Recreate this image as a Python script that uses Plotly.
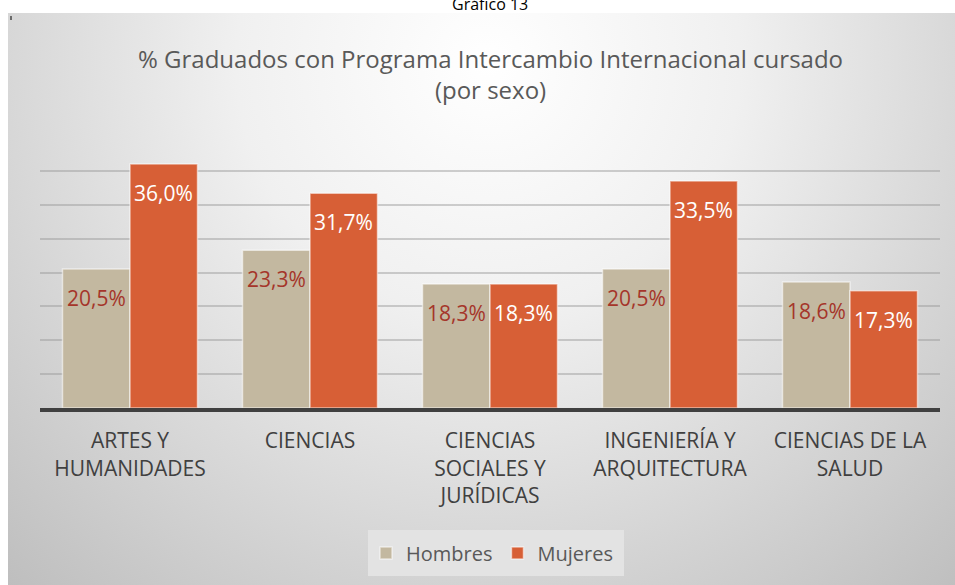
import base64
import plotly.graph_objects as go

# ---- data ----
categories = ["ARTES Y<br>HUMANIDADES", "CIENCIAS", "CIENCIAS<br>SOCIALES Y<br>JURÍDICAS",
              "INGENIERÍA Y<br>ARQUITECTURA", "CIENCIAS DE LA<br>SALUD"]
hombres = [20.5, 23.3, 18.3, 20.5, 18.6]
mujeres = [36.0, 31.7, 18.3, 33.5, 17.3]
series_names = ["Hombres", "Mujeres"]
title_text = "% Graduados con Programa Intercambio Internacional cursado<br>(por sexo)"
caption_text = "Gráfico 13"

W, H = 955, 585
FONT = "Open Sans"
c_h = "#c3b8a0"
c_m = "#d75f36"

fig = go.Figure()
fig.add_trace(go.Bar(x=categories, y=hombres, name=series_names[0],
                     marker=dict(color=c_h, line=dict(color="rgba(255,255,255,0.55)", width=1.5))))
fig.add_trace(go.Bar(x=categories, y=mujeres, name=series_names[1],
                     marker=dict(color=c_m, line=dict(color="rgba(255,255,255,0.55)", width=1.5))))

bar_off = 33.75
ann = []
for cat, v in zip(categories, hombres):
    ann.append(dict(x=cat, y=v, xref="x", yref="y", text=f"{v:.1f}%".replace(".", ","),
                    showarrow=False, xshift=-bar_off, yshift=-29, yanchor="middle",
                    font=dict(family=FONT, size=21, color="#a5352a")))
for cat, v in zip(categories, mujeres):
    ann.append(dict(x=cat, y=v, xref="x", yref="y", text=f"{v:.1f}%".replace(".", ","),
                    showarrow=False, xshift=bar_off, yshift=-29, yanchor="middle",
                    font=dict(family=FONT, size=21, color="#ffffff")))
ann.append(dict(x=490 / W, y=1 - 74 / H, xref="paper", yref="paper", text=title_text,
                showarrow=False, xanchor="center", yanchor="middle",
                font=dict(family=FONT, size=24, color="#595959")))
ann.append(dict(x=490 / W, y=1 - 4 / H, xref="paper", yref="paper", text=caption_text,
                showarrow=False, xanchor="center", yanchor="middle",
                font=dict(family=FONT, size=16, color="#000000")))

svg = ('<svg xmlns="http://www.w3.org/2000/svg" width="960" height="580" viewBox="0 0 960 580">'
       '<defs><radialGradient id="g" gradientUnits="userSpaceOnUse" cx="480" cy="50" r="720">'
       '<stop offset="0" stop-color="#ffffff"/><stop offset="0.35" stop-color="#f0f0f0"/>'
       '<stop offset="1" stop-color="#bdbdbd"/></radialGradient></defs>'
       '<rect width="960" height="580" fill="url(#g)"/></svg>')
src = "data:image/svg+xml;base64," + base64.b64encode(svg.encode()).decode()

fig.update_layout(
    width=W, height=H,
    margin=dict(l=0, r=0, t=0, b=0),
    paper_bgcolor="#c4c4c4", plot_bgcolor="rgba(0,0,0,0)",
    barmode="group", bargap=0.25, bargroupgap=0,
    images=[dict(source=src, xref="paper", yref="paper", x=8 / W, y=1 - 13 / H,
                 sizex=960 / W, sizey=580 / H, xanchor="left", yanchor="top",
                 sizing="stretch", layer="below")],
    xaxis=dict(domain=[40 / W, 940 / W], showline=True, linecolor="#404040", linewidth=4,
               ticks="", ticklabelstandoff=11,
               tickfont=dict(family=FONT, size=21, color="#404040"), showgrid=False),
    yaxis=dict(domain=[(H - 408) / H, (H - 137) / H], range=[0, 40], dtick=5,
               showticklabels=False, gridcolor="rgba(150,150,150,0.45)", gridwidth=1.5,
               zeroline=False),
    legend=dict(orientation="h", x=492 / W, xanchor="center", y=(H - 553) / H, yanchor="middle",
                bgcolor="rgba(0,0,0,0)", font=dict(family=FONT, size=20, color="#595959")),
    annotations=ann,
    shapes=[
        # white page margins outside the chart box
        dict(type="rect", xref="paper", yref="paper", x0=0, x1=8 / W, y0=0, y1=1,
             fillcolor="#ffffff", line=dict(width=0), layer="below"),
        dict(type="rect", xref="paper", yref="paper", x0=0, x1=1, y0=1 - 13 / H, y1=1,
             fillcolor="#ffffff", line=dict(width=0), layer="below"),
        # legend background panel
        dict(type="rect", xref="paper", yref="paper", x0=368 / W, x1=624 / W,
             y0=(H - 576) / H, y1=(H - 530) / H, fillcolor="#e3e3e3", line=dict(width=0),
             layer="below"),
        dict(type="line", xref="paper", yref="paper", x0=11 / W, x1=11 / W,
             y0=1 - 16 / H, y1=1 - 20 / H, line=dict(color="#000000", width=1)),
    ],
)

fig.write_html("out.html", config={"displayModeBar": False},
               post_script="document.body.style.margin='0';document.body.style.overflow='hidden';")
